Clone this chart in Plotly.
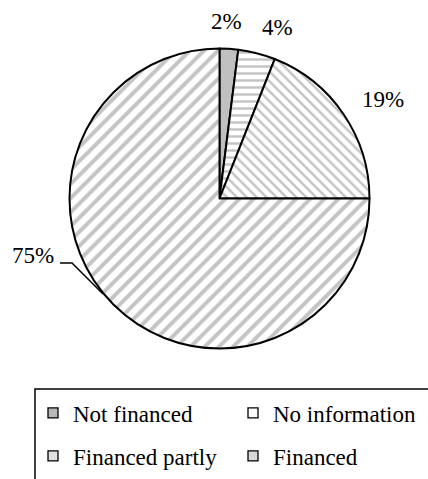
import plotly.graph_objects as go

W, H = 428, 479

labels = ["Not financed", "No information", "Financed", "Financed partly"]
values = [2, 4, 19, 75]
legend_order = ["Not financed", "No information", "Financed partly", "Financed"]

fills = {"Not financed": "#c0c0c0", "No information": "#ffffff",
         "Financed": "#ffffff", "Financed partly": "#ffffff"}
legend_fills = {"Not financed": "#b8b8b8", "No information": "#ffffff",
                "Financed": "#d8d8d8", "Financed partly": "#e0e0e0"}
shapes_pat = {"Not financed": "", "No information": "-", "Financed": "\\", "Financed partly": "/"}
pat_size = {"Not financed": 8, "No information": 7, "Financed": 7, "Financed partly": 10}
pat_sol = {"Not financed": 0.2, "No information": 0.35, "Financed": 0.35, "Financed partly": 0.4}

FONT = "Liberation Serif"

def px(x):
    return x / W

def py(y):
    return 1 - y / H

cx, cy, r = 219.5, 198.5, 150

fig = go.Figure()
fig.add_trace(go.Pie(
    labels=labels, values=values, sort=False, direction="clockwise", rotation=0,
    textinfo="none", hoverinfo="label+percent", showlegend=False,
    domain=dict(x=[px(cx - r), px(cx + r)], y=[py(cy + r), py(cy - r)]),
    marker=dict(
        colors=[fills[l] for l in labels],
        line=dict(color="black", width=2),
        pattern=dict(
            shape=[shapes_pat[l] for l in labels],
            fgcolor="#c4c4c4",
            bgcolor=[fills[l] for l in labels],
            size=[pat_size[l] for l in labels],
            solidity=[pat_sol[l] for l in labels],
            fillmode="replace",
        ),
    ),
))

# one legend per entry, so the 2x2 grid matches the reference order
legend_names = ["legend", "legend2", "legend3", "legend4"]
legend_xy = [(33, 413), (233, 413), (33, 456), (233, 456)]
legend_layout = {}
for lg, name, (lx, ly) in zip(legend_names, legend_order, legend_xy):
    fig.add_trace(go.Scatter(
        x=[None], y=[None], mode="markers", name=name, legend=lg,
        marker=dict(symbol="square", size=10, color=legend_fills[name],
                    line=dict(color="black", width=1.3)),
    ))
    legend_layout[lg] = dict(
        x=px(lx), y=py(ly), xanchor="left", yanchor="middle",
        orientation="h", font=dict(family=FONT, size=23, color="black"),
        bgcolor="rgba(0,0,0,0)", borderwidth=0, itemwidth=30, itemclick=False,
    )

# percentage labels
label_pos = {"Not financed": (226.5, 22), "No information": (277.5, 28),
             "Financed": (383, 99), "Financed partly": (33, 256)}
for l, v in zip(labels, values):
    x, y = label_pos[l]
    fig.add_annotation(x=px(x), y=py(y), xref="paper", yref="paper", text=f"{v}%",
                       showarrow=False, font=dict(family=FONT, size=23, color="black"),
                       xanchor="center", yanchor="middle")

fig.update_layout(
    width=W, height=H, margin=dict(l=0, r=0, t=0, b=0),
    font=dict(family=FONT, size=23, color="black"),
    paper_bgcolor="white", plot_bgcolor="white",
    xaxis=dict(visible=False), yaxis=dict(visible=False),
    shapes=[
        dict(type="path", xref="paper", yref="paper",
             path=f"M {px(60)},{py(263)} L {px(72)},{py(263)} L {px(103)},{py(294)}",
             line=dict(color="black", width=1.5)),
        dict(type="rect", xref="paper", yref="paper",
             x0=px(35), x1=px(450), y0=py(389), y1=py(500),
             line=dict(color="black", width=1.5), layer="below"),
    ],
    **legend_layout,
)

fig.write_html("out.html", config={"displayModeBar": False},
               post_script="document.body.style.margin='0';")
